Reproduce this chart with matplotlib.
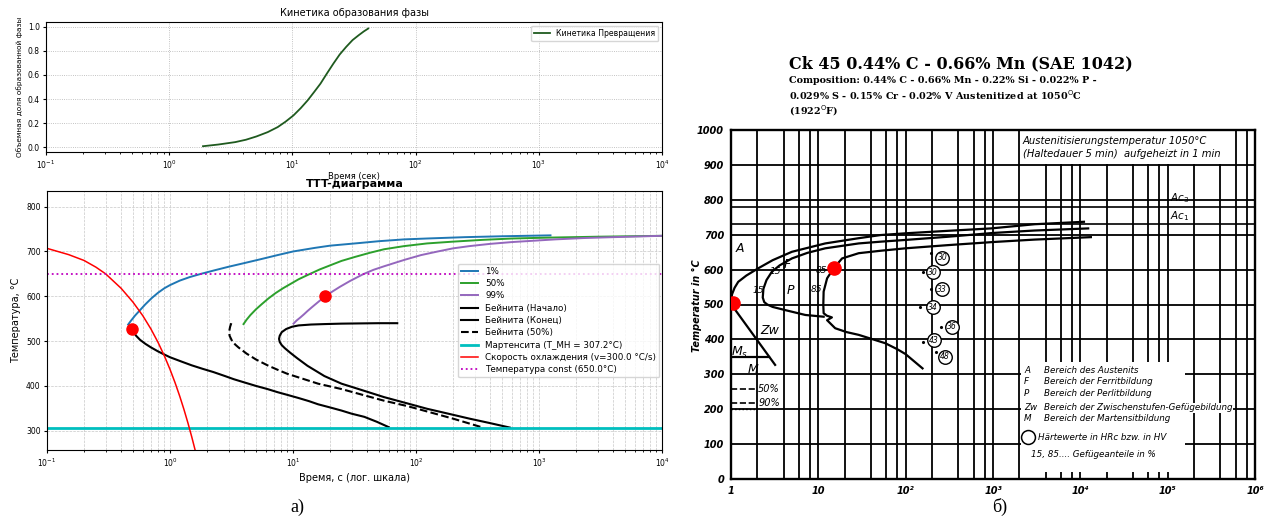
import matplotlib.pyplot as plt
from matplotlib.patches import Rectangle

W, H = 1266, 520

# ---------------- left, top: kinetics ----------------
kin_t = [1.88, 2.5, 3.43, 4.2, 5.1, 6.3, 7.6, 8.8, 10.2, 11.7, 13.3, 15.0,
         16.9, 19.0, 21.5, 24.2, 27.3, 30.8, 34.6, 38.0, 41.3]
kin_f = [0.008, 0.022, 0.042, 0.062, 0.089, 0.125, 0.167, 0.212, 0.264, 0.325,
         0.389, 0.458, 0.528, 0.61, 0.694, 0.77, 0.833, 0.89, 0.931, 0.962, 0.986]

# ---------------- left, bottom: TTT ----------------
p1_t = [0.457, 0.48, 0.52, 0.57, 0.63, 0.71, 0.8, 0.9, 1.0, 1.2, 1.45, 1.78, 2.3, 3.0,
        4.0, 5.5, 7.5, 10, 15, 20, 35, 50, 80, 123, 250, 500, 1240]
p1_T = [537, 545, 557, 569, 582, 596, 608, 618, 625, 635, 643, 650, 658, 666,
        674, 683, 692, 700, 708, 713, 719, 723, 727, 729, 732, 734, 736]
p50_t = [3.96, 4.2, 4.5, 5.0, 5.6, 6.3, 7.2, 8.3, 9.6, 11.1, 13.5, 16.5, 20, 24.8, 32,
         42, 55, 80, 123, 200, 350, 610, 1200, 3000, 10000]
p50_T = [538, 548, 558, 571, 583, 595, 607, 618, 628, 638, 649, 660, 669, 679, 688,
         697, 705, 712, 718, 722, 726, 729, 731, 733, 735]
p99_t = [10.1, 10.7, 11.5, 12.3, 13.1, 14.3, 15.5, 16.8, 18.1, 21, 24, 29, 37, 45, 55,
         68, 82, 110, 150, 200, 272, 400, 600, 900, 1350, 2300, 4000, 10000]
p99_T = [539, 546, 553, 560, 567, 576, 584, 592, 599, 611, 621, 634, 649, 659, 667,
         675, 682, 692, 700, 707, 712, 717, 721, 724, 727, 730, 732, 735]
bs_t = [0.48, 0.5, 0.53, 0.57, 0.63, 0.7, 0.8, 0.9, 1.0, 1.25, 1.5, 1.85, 2.25, 2.8,
        3.3, 4.0, 5.0, 6.2, 7.5, 9.0, 11.1, 13.5, 16, 20, 24.8, 30, 38, 48, 60]
bs_T = [532, 522, 512, 503, 494, 486, 477, 470, 464, 454, 446, 438, 431, 422,
        415, 408, 400, 393, 386, 380, 373, 366, 359, 352, 345, 338, 331, 320, 308]
be_t = [70.4, 50, 35, 24.8, 18, 14, 11.1, 9.8, 8.8, 8.1, 7.8, 7.7, 7.8, 8.1, 8.6, 9.5,
        10.8, 13.1, 18, 24.8, 38, 55, 85, 123, 190, 272, 400, 580]
be_T = [540, 540, 539.5, 539, 538, 537, 535, 532, 527, 520, 512, 505, 498, 491, 484,
        474, 462, 445, 422, 405, 389, 375, 361, 349, 337, 327, 317, 307]
bm_t = [3.15, 3.08, 3.03, 3.05, 3.2, 3.4, 3.6, 4.2, 5.0, 6.2, 7.5, 9.0, 11.1, 16, 24.8,
        38, 55, 85, 123, 200, 280, 350]
bm_T = [540, 532, 522, 512, 500, 492, 486, 472, 459, 446, 436, 427, 419, 405, 393,
        379, 367, 355, 343, 327, 315, 307]
cool_t = [0.1, 0.15, 0.2, 0.25, 0.3, 0.4, 0.5, 0.6, 0.7, 0.8, 0.9, 1.0, 1.1, 1.2, 1.3, 1.4, 1.5, 1.6]
cool_T = [707, 693, 680, 665, 650, 618, 587, 557, 527, 497, 467, 437, 407, 377, 347, 317, 287, 257]
T_ms = 307.2
T_const = 650.0
pts_left_t = [0.49, 18.1]
pts_left_T = [528, 600]

# ---------------- right: CCT Ck45 ----------------
fs_t = [1.1e4, 3000, 948, 300, 99.6, 51.6, 29, 12, 4.98, 3.0, 2.06, 1.5, 1.21,
        1.1, 1.03, 1.0, 1.01, 1.05, 3.2]
fs_T = [737, 730, 718, 711, 704, 699, 690, 675, 651, 627, 604, 583, 565,
        548, 530, 512, 502, 494, 327]
f15_t = [1.23e4, 3000, 1000, 300, 99.6, 51.6, 29, 12, 7.5, 4.98, 3.6, 2.94, 2.55,
         2.35, 2.31, 2.4, 2.6, 3.0, 4.17, 7.1, 11.5]
f15_T = [718, 712, 705, 694, 685, 680, 675, 661, 648, 632, 612, 594, 570,
         545, 520, 507, 500, 493, 484, 470, 465]
f85_t = [1.32e4, 3000, 1000, 300, 99.6, 51.6, 29, 18.7, 15, 12.6, 11.5, 11.4, 11.5,
         12.5, 14.3, 12.6, 15.6, 21, 29, 40, 58.5, 80, 99.6, 156]
f85_T = [693, 686, 679, 670, 661, 654, 647, 632, 604, 575, 537, 499, 475,
         468, 463, 455, 432, 421, 413, 402, 389, 372, 358, 317]
ms_T = 349
ms_t_end = 2.75
pct_T = [258, 217]
pct_lab = ['50%', '90%']
hv_lab = ['30', '30', '33', '34', '36', '43', '48']
hv_t = [264, 203, 259, 203, 335, 211, 280]
hv_T = [634, 592, 544, 492, 436, 398, 350]
hv_dot_t = [194, 156, 194, 146, 253, 160, 220]
hv_dot_T = [647, 592, 544, 492, 436, 393, 365]
pts_right_t = [1.06, 15]
pts_right_T = [503, 604]
ac3_T = 778
ac1_T = 730

fig = plt.figure(figsize=(W / 100, H / 100), dpi=100)


def box(x0, y0, x1, y1):
    return [x0 / W, 1 - y1 / H, (x1 - x0) / W, (y1 - y0) / H]


# ===== left top =====
ax1 = fig.add_axes(box(46, 22, 662, 152))
ax1.plot(kin_t, kin_f, color='#1f5a1f', lw=1.3, label='Кинетика Превращения')
ax1.set_xscale('log')
ax1.set_xlim(0.1, 1e4)
ax1.set_ylim(-0.04, 1.04)
ax1.grid(True, ls=':', lw=0.6, color='#b0b0b0')
ax1.tick_params(labelsize=5.5, length=2.5, pad=2)
ax1.tick_params(which='minor', length=1.5)
ax1.set_title('Кинетика образования фазы', fontsize=7, pad=4)
ax1.set_xlabel('Время (сек)', fontsize=6, labelpad=1)
ax1.set_ylabel('Объемная доля образованной фазы', fontsize=5.3, labelpad=3)
ax1.legend(loc='upper right', fontsize=5.6)

# ===== left bottom =====
ax2 = fig.add_axes(box(47, 191, 662, 450))
ax2.plot(p1_t, p1_T, color='tab:blue', lw=1.4, label='1%')
ax2.plot(p50_t, p50_T, color='tab:green', lw=1.4, label='50%')
ax2.plot(p99_t, p99_T, color='tab:purple', lw=1.4, label='99%')
ax2.plot(bs_t, bs_T, color='k', lw=1.5, label='Бейнита (Начало)')
ax2.plot(be_t, be_T, color='k', lw=1.5, label='Бейнита (Конец)')
ax2.plot(bm_t, bm_T, color='k', lw=1.5, ls='--', label='Бейнита (50%)')
ax2.axhline(T_ms, color='c', lw=2, label=f'Мартенсита (T_MH = {T_ms:.1f}°C)')
ax2.plot(cool_t, cool_T, color='r', lw=1.1, label='Скорость охлаждения (v=300.0 °C/s)')
ax2.axhline(T_const, color='m', lw=1.3, ls=':', label=f'Температура const ({T_const:.1f}°C)')
ax2.plot(pts_left_t, pts_left_T, 'o', color='red', ms=8, zorder=5)
ax2.set_xscale('log')
ax2.set_xlim(0.1, 1e4)
ax2.set_ylim(257, 835)
ax2.set_yticks([300, 400, 500, 600, 700, 800])
ax2.grid(True, which='both', ls='--', lw=0.5, color='#c8c8c8')
ax2.tick_params(labelsize=5.5, length=2.5, pad=2)
ax2.tick_params(which='minor', length=1.5)
ax2.set_title('TTT-диаграмма', fontsize=8, fontweight='bold', pad=3)
ax2.set_xlabel('Время, с (лог. шкала)', fontsize=7, labelpad=3)
ax2.set_ylabel('Температура, °C', fontsize=7, labelpad=4)
ax2.legend(loc='center right', fontsize=6.3, labelspacing=0.38, handlelength=2.0,
           borderpad=0.35, bbox_to_anchor=(1.003, 0.5))

# ===== right CCT =====
it = dict(fontstyle='italic', family='DejaVu Sans')
ax3 = fig.add_axes(box(731, 130, 1255, 479))
ax3.set_xscale('log')
ax3.set_xlim(1, 1e6)
ax3.set_ylim(0, 1000)
for k in range(6):
    for m in [1, 2, 4, 6, 8]:
        ax3.axvline(m * 10 ** k, color='k', lw=1.3, zorder=1)
for T in range(100, 1000, 100):
    ax3.axhline(T, color='k', lw=1.3, zorder=1)
ax3.axhline(ac3_T, color='k', lw=1.2, zorder=1)
ax3.axhline(ac1_T, color='k', lw=1.2, zorder=1)
for s in ax3.spines.values():
    s.set_linewidth(1.7)

ax3.add_patch(Rectangle((2.08e3, 903), 5.6e5 - 2.08e3, 95, facecolor='white',
                        edgecolor='none', zorder=2))
ax3.add_patch(Rectangle((2.08e3, 21), 1.6e5 - 2.08e3, 315, facecolor='white',
                        edgecolor='none', zorder=2))

ax3.plot(fs_t, fs_T, color='k', lw=1.6, zorder=3)
ax3.plot(f15_t, f15_T, color='k', lw=1.6, zorder=3)
ax3.plot(f85_t, f85_T, color='k', lw=1.6, zorder=3)
ax3.plot([1, ms_t_end], [ms_T, ms_T], color='k', lw=1.6, zorder=3)
for T, lab in zip(pct_T, pct_lab):
    ax3.plot([1, 1.9], [T, T], color='k', lw=1.2, ls='--', zorder=3)
    ax3.text(2.05, T, lab, fontsize=7, va='center', zorder=4, **it)
ax3.plot([1, 1.9], [200, 200], color='k', lw=1.0, ls=':', zorder=3)

ax3.plot(hv_dot_t, hv_dot_T, 'k.', ms=2.5, zorder=4)
ax3.scatter(hv_t, hv_T, s=95, facecolor='white', edgecolor='k', lw=1.0, zorder=4)
for t, T, lab in zip(hv_t, hv_T, hv_lab):
    ax3.text(t, T, lab, fontsize=5.5, ha='center', va='center', zorder=5, **it)

ax3.plot(pts_right_t, pts_right_T, 'o', color='red', ms=9.5, zorder=6)

regions = [('A', 1.27, 661), ('F', 4.37, 615), ('P', 4.77, 539), ('Zw', 2.8, 425),
           ('$M_s$', 1.27, 364), ('$M$', 1.8, 315)]
for lab, t, T in regions:
    ax3.text(t, T, lab, fontsize=9, ha='center', va='center', zorder=4, **it)
for lab, t, T in [('15', 3.2, 594), ('15', 2.06, 539), ('85', 11.0, 596), ('85', 9.4, 544)]:
    ax3.text(t, T, lab, fontsize=6.5, ha='center', va='center', zorder=4, **it)
ax3.text(1.05e5, 806, '$Ac_3$', fontsize=7.5, va='center', zorder=4)
ax3.text(1.05e5, 752, '$Ac_1$', fontsize=7.5, va='center', zorder=4)

ax3.text(2.2e3, 969, 'Austenitisierungstemperatur 1050°C', fontsize=7.2, va='center',
         zorder=4, **it)
ax3.text(2.2e3, 931, '(Haltedauer 5 min)  aufgeheizt in 1 min', fontsize=7.2,
         va='center', zorder=4, **it)

legend_rows = [('A', 'Bereich des Austenits', 310), ('F', 'Bereich der Ferritbildung', 278),
               ('P', 'Bereich der Perlitbildung', 246),
               ('Zw', 'Bereich der Zwischenstufen-Gefügebildung', 204),
               ('M', 'Bereich der Martensitbildung', 172)]
for a, b, T in legend_rows:
    ax3.text(2.27e3, T, a, fontsize=6.3, va='center', zorder=4, **it)
    ax3.text(3.85e3, T, b, fontsize=6.3, va='center', zorder=4, **it,
             bbox=dict(facecolor='white', edgecolor='none', pad=0.5))
ax3.plot([2.5e3], [120], 'o', ms=10, mfc='white', mec='k', mew=1.1, zorder=4)
ax3.text(3.3e3, 120, 'Härtewerte in HRc bzw. in HV', fontsize=6.3, va='center',
         zorder=4, **it)
ax3.text(2.73e3, 69, '15, 85.... Gefügeanteile in %', fontsize=6.3, va='center',
         zorder=4, **it)

ax3.set_yticks(range(0, 1001, 100))
ax3.set_yticklabels([str(v) for v in range(0, 1001, 100)], fontsize=7,
                    fontweight='bold', **it)
ax3.set_xticks([1, 10, 100, 1e3, 1e4, 1e5, 1e6])
ax3.set_xticklabels(['1', '10', '10²', '10³', '10⁴', '10⁵', '10⁶'], fontsize=7,
                    fontweight='bold', **it)
ax3.minorticks_off()
ax3.tick_params(length=0, pad=5)
fig.text(697 / W, 1 - 306 / H, 'Temperatur in °C', rotation=90, fontsize=7,
         fontweight='bold', ha='center', va='center', **it)

fig.text(789 / W, 1 - 64 / H, 'Ck 45 0.44% C - 0.66% Mn (SAE 1042)', fontsize=11.5,
         fontweight='bold', family='DejaVu Serif', va='center')
comp = ['Composition: 0.44% C - 0.66% Mn - 0.22% Si - 0.022% P -',
        '0.029% S - 0.15% Cr - 0.02% V Austenitized at 1050$^{\\mathrm{O}}$C',
        '(1922$^{\\mathrm{O}}$F)']
for i, line in enumerate(comp):
    fig.text(789 / W, 1 - (80.5 + 15 * i) / H, line, fontsize=6.9, fontweight='bold',
             family='DejaVu Serif', va='center')

fig.text(297 / W, 1 - 507 / H, 'а)', fontsize=13, family='Liberation Serif',
         ha='center', va='center')
fig.text(1000 / W, 1 - 507 / H, 'б)', fontsize=13, family='Liberation Serif',
         ha='center', va='center')

fig.savefig('out.png', dpi=100)
